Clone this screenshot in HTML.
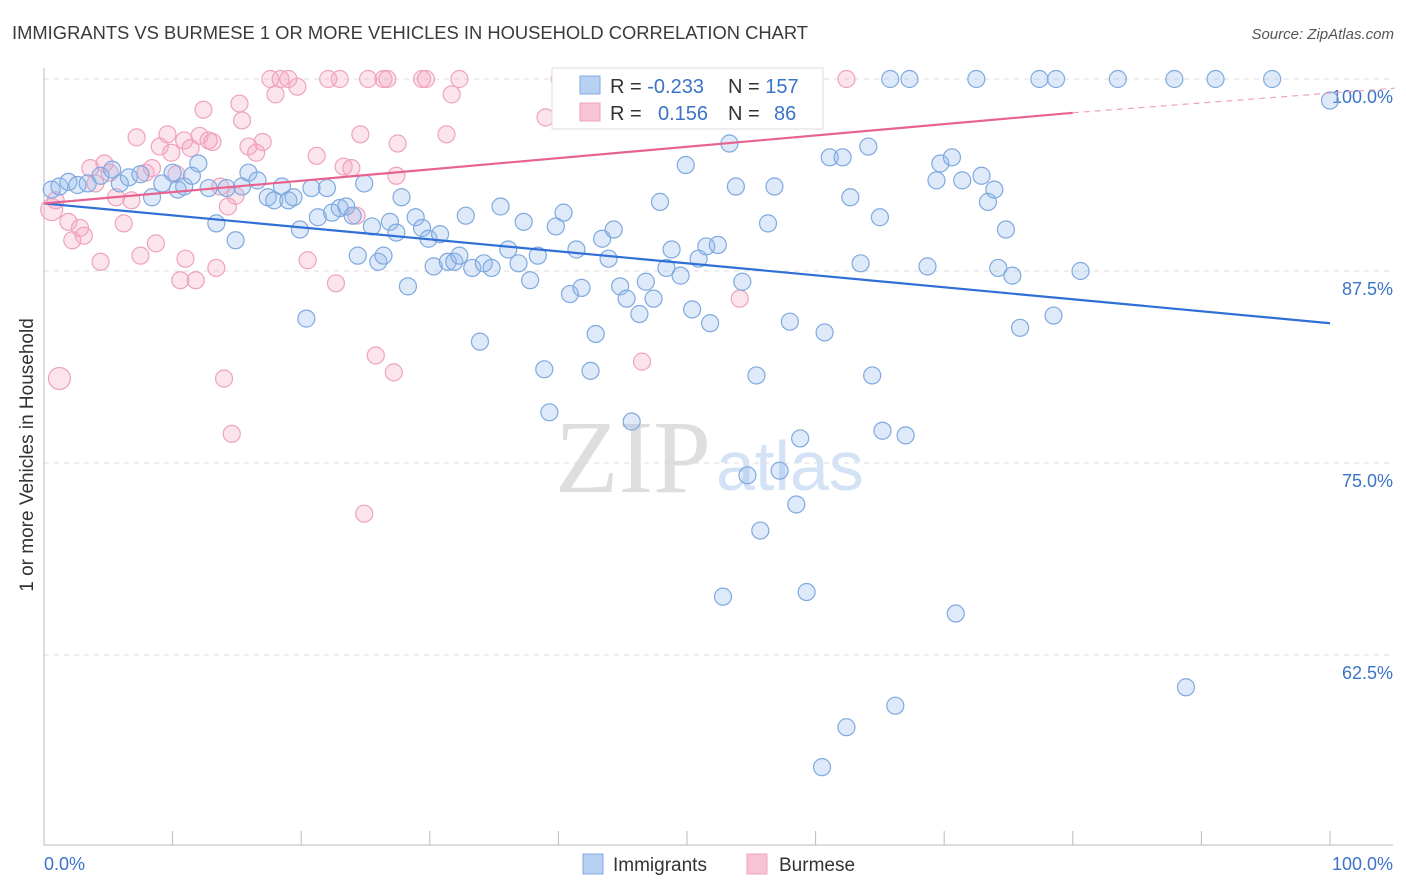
<!DOCTYPE html>
<html><head><meta charset="utf-8">
<style>
body{margin:0;background:#fff;font-family:"Liberation Sans",sans-serif;}
svg{display:block}
</style></head>
<body>
<svg id="chart" width="1406" height="892" xmlns="http://www.w3.org/2000/svg">
<text x="12" y="39" font-size="18" textLength="796" lengthAdjust="spacingAndGlyphs" fill="#3a3a3a">IMMIGRANTS VS BURMESE 1 OR MORE VEHICLES IN HOUSEHOLD CORRELATION CHART</text>
<text x="1394" y="39" font-size="15" fill="#555" text-anchor="end" font-style="italic">Source: ZipAtlas.com</text>
<text x="555" y="492" font-size="104" fill="#dedede" font-family="Liberation Serif,serif">ZIP</text>
<text x="716" y="490" font-size="70" fill="#d3e3f5">atlas</text>
<g id="grid"></g>
<g id="axes"></g>
<g id="pink"></g>
<g id="blue"></g>
<g id="trends"></g>
<text transform="translate(33,455) rotate(-90)" font-size="19" fill="#333" text-anchor="middle">1 or more Vehicles in Household</text>
<g>
<rect x="552" y="68" width="271" height="61" fill="#fff" stroke="#ddd"/>
<rect x="580" y="76" width="20" height="18" fill="#b7d1f3" stroke="#7fa9df"/>
<rect x="580" y="103" width="20" height="18" fill="#f8c3d3" stroke="#eea3bd"/>
<text x="610" y="93" font-size="20" fill="#333">R = <tspan fill="#3a73c8">-0.233</tspan><tspan x="728">N = </tspan><tspan fill="#3a73c8">157</tspan></text>
<text x="610" y="120" font-size="20" fill="#333">R = <tspan x="658" fill="#3a73c8">0.156</tspan><tspan x="728">N = </tspan><tspan x="774" fill="#3a73c8">86</tspan></text>
</g>
<g>
<rect x="583" y="854" width="20" height="20" fill="#b7d1f3" stroke="#7fa9df"/>
<text x="613" y="871" font-size="19" fill="#333">Immigrants</text>
<rect x="747" y="854" width="20" height="20" fill="#f8c3d3" stroke="#eea3bd"/>
<text x="779" y="871" font-size="19" fill="#333">Burmese</text>
</g>
</svg>
<script>
const yTicks=[100,87.5,75,62.5];
const yTickLabels=["100.0%","87.5%","75.0%","62.5%"];
const xTickLabels=["0.0%","100.0%"];
const blueX=[0.6,1.2,1.9,2.6,3.4,4.4,5.3,5.9,6.6,7.5,8.4,9.2,10.0,10.4,10.9,11.5,12.0,12.8,13.4,14.2,14.9,15.4,15.9,16.6,17.4,17.9,18.5,19.0,19.4,19.9,20.4,20.8,21.3,22.0,22.4,23.0,23.5,24.0,24.4,24.9,25.5,26.0,26.4,26.9,27.4,27.8,28.3,28.9,29.4,29.9,30.3,30.8,31.4,31.9,32.3,32.8,33.3,33.9,34.2,34.8,35.5,36.1,36.9,37.3,37.8,38.4,38.9,39.3,39.8,40.4,40.9,41.4,41.8,42.5,42.9,43.4,43.9,44.3,44.8,45.3,45.7,46.3,46.8,47.4,47.9,48.4,48.8,49.5,49.9,50.4,50.9,51.5,51.8,52.4,52.8,53.3,53.8,54.3,54.7,55.4,55.7,56.3,56.8,57.2,58.0,58.5,58.8,59.3,60.5,60.7,61.1,62.1,62.4,62.7,63.5,64.1,64.4,65.0,65.2,66.2,67.0,68.7,69.4,69.7,70.6,70.9,71.4,72.9,73.4,73.9,74.2,74.8,75.3,75.9,78.5,80.6,88.8,100,65.8,67.3,72.5,77.4,78.7,83.5,87.9,91.1,95.5];
const blueY=[92.8,93.0,93.3,93.1,93.2,93.7,94.1,93.2,93.6,93.8,92.3,93.2,93.9,92.8,93.0,93.7,94.5,92.9,90.6,92.9,89.5,93.0,93.9,93.4,92.3,92.1,93.0,92.1,92.3,90.2,84.4,92.9,91.0,92.9,91.3,91.6,91.7,91.1,88.5,93.2,90.4,88.1,88.5,90.7,90.0,92.3,86.5,91.0,90.3,89.6,87.8,89.9,88.1,88.1,88.5,91.1,87.7,82.9,88.0,87.7,91.7,88.9,88.0,90.7,86.9,88.5,81.1,78.3,90.4,91.3,86.0,88.9,86.4,81.0,83.4,89.6,88.3,90.2,86.5,85.7,77.7,84.7,86.8,85.7,92.0,87.7,88.9,87.2,94.4,85.0,88.3,89.1,84.1,89.2,66.3,95.8,93.0,86.8,74.2,80.7,70.6,90.6,93.0,74.5,84.2,72.3,76.6,66.6,55.2,83.5,94.9,94.9,57.8,92.3,88.0,95.6,80.7,91.0,77.1,59.2,76.8,87.8,93.4,94.5,94.9,65.2,93.4,93.7,92.0,92.8,87.7,90.2,87.2,83.8,84.6,87.5,60.4,98.6,100,100,100,100,100,100,100,100,100];
const pinkX=[0.6,1.2,0.9,1.9,2.2,2.8,3.1,3.6,4.0,4.4,4.7,5.1,5.6,6.2,6.8,7.2,7.5,7.9,8.4,8.7,9.0,9.6,9.9,10.3,10.6,10.9,11.0,11.4,11.8,12.1,12.4,12.8,13.1,13.4,13.7,14.0,14.3,14.6,14.9,15.2,15.4,15.9,16.5,17.0,17.6,18.0,18.4,19.0,19.7,20.5,21.2,22.1,22.7,23.0,23.3,23.9,24.3,24.6,24.9,25.2,25.8,26.4,26.7,27.2,27.5,27.4,29.4,29.7,31.3,31.7,32.3,39.0,40.1,46.5,54.1,62.4];
const pinkY=[91.5,80.5,92.1,90.7,89.5,90.3,89.8,94.2,93.2,88.1,94.5,93.9,92.3,90.6,92.1,96.2,88.5,93.9,94.2,89.3,95.6,96.4,95.2,93.8,86.9,96.0,88.3,95.5,86.9,96.3,98.0,96.0,95.9,87.7,93.0,80.5,91.7,76.9,92.4,98.4,97.3,95.6,95.2,95.9,100,99.0,100,100,99.5,88.2,95.0,100,86.7,100,94.3,94.2,91.1,96.4,71.7,100,82.0,100,100,80.9,95.8,93.7,100,100,96.4,99.0,100,97.5,100,81.6,85.7,100];
const pinkBig=[0,1];
const blueTrend=[[0,91.9],[100,84.1]];
const pinkTrend=[[0,91.9],[80,97.8]];
const pinkTrendExt=[[80,97.8],[105,99.4]];

const NS="http://www.w3.org/2000/svg";
const X0=44,X1=1330,Y100=79,PXPER=15.36;
function sx(v){return X0+(X1-X0)*v/100;}
function sy(v){return Y100+(100-v)*PXPER;}
function mk(tag,attrs,parent){const e=document.createElementNS(NS,tag);for(const k in attrs)e.setAttribute(k,attrs[k]);parent.appendChild(e);return e;}

const grid=document.getElementById('grid');
yTicks.forEach((t,i)=>{
  const l=mk('line',{x1:44,x2:1393,y1:sy(t),y2:sy(t),stroke:'#dcdcdc','stroke-dasharray':'5,5'},grid);
  
  
  const tx=mk('text',{x:1393,y:sy(t)+24,'font-size':18,fill:'#3a73c8','text-anchor':'end'},grid);
  tx.textContent=yTickLabels[i];
  
  
});
const axes=document.getElementById('axes');
const ax=mk('line',{x1:44,x2:1393,y1:845,y2:845,stroke:'#bbb'},axes);


const ay=mk('line',{x1:44,x2:44,y1:68,y2:845,stroke:'#bbb'},axes);


for(let i=0;i<=10;i++){
  const t=mk('line',{x1:sx(i*10),x2:sx(i*10),y1:831,y2:845,stroke:'#bbb'},axes);
  
  
}
const xl0=mk('text',{x:44,y:870,'font-size':18,fill:'#3a73c8'},axes);
xl0.textContent=xTickLabels[0];


const xl1=mk('text',{x:1393,y:870,'font-size':18,fill:'#3a73c8','text-anchor':'end'},axes);
xl1.textContent=xTickLabels[1];



const pg=document.getElementById('pink');
pinkX.forEach((x,i)=>{
  const c=mk('circle',{cx:sx(x),cy:sy(pinkY[i]),r:pinkBig.includes(i)?11:8.5,fill:'rgba(244,164,192,0.3)',stroke:'#eea3bd','stroke-width':1.2},pg);
  
  
});
const bg=document.getElementById('blue');
blueX.forEach((x,i)=>{
  const c=mk('circle',{cx:sx(x),cy:sy(blueY[i]),r:8.5,fill:'rgba(147,187,235,0.3)',stroke:'#7fa9df','stroke-width':1.2},bg);
  
  
});
const tg=document.getElementById('trends');
const bt=mk('line',{x1:sx(blueTrend[0][0]),y1:sy(blueTrend[0][1]),x2:sx(blueTrend[1][0]),y2:sy(blueTrend[1][1]),stroke:'#2f6fd6','stroke-width':2.2},tg);


const pt=mk('line',{x1:sx(pinkTrend[0][0]),y1:sy(pinkTrend[0][1]),x2:sx(pinkTrend[1][0]),y2:sy(pinkTrend[1][1]),stroke:'#e8628f','stroke-width':2.2},tg);


const pe=mk('line',{x1:sx(pinkTrendExt[0][0]),y1:sy(pinkTrendExt[0][1]),x2:sx(pinkTrendExt[1][0]),y2:sy(pinkTrendExt[1][1]),stroke:'#eea3bd','stroke-width':1.2,'stroke-dasharray':'6,5'},tg);


</script>
</body></html>
